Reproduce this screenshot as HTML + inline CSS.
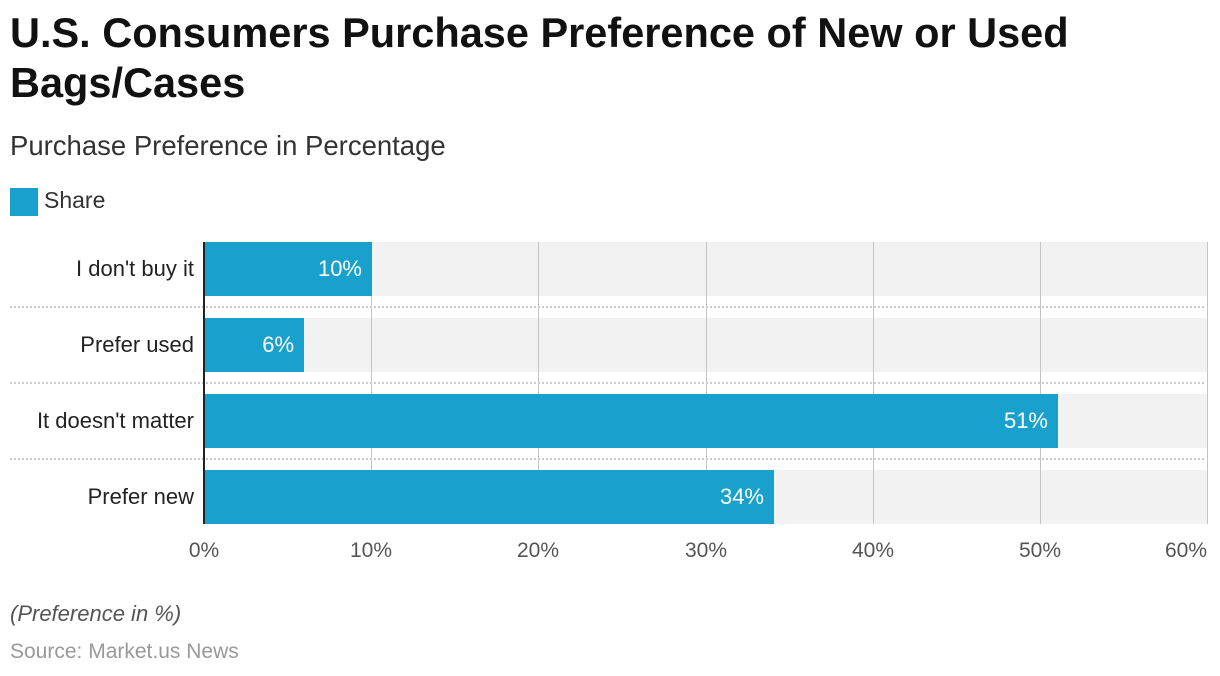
<!DOCTYPE html>
<html><head><style>
body{margin:0;width:1220px;height:676px;background:#fff;font-family:"Liberation Sans",sans-serif;position:relative;overflow:hidden}
.a{position:absolute}
h1{position:absolute;left:10px;top:8px;margin:0;font-size:41.5px;line-height:50px;font-weight:bold;color:#111}
.band{position:absolute;left:205px;width:1002px;height:54px;background:#f2f2f2}
.bar{position:absolute;left:205px;height:54px;background:#19a1cd;color:#fff;font-size:22px;line-height:54px;text-align:right;box-sizing:border-box;padding-right:10px}
.cat{position:absolute;right:1026px;font-size:22px;line-height:54px;color:#222;white-space:nowrap}
.grid{position:absolute;top:242px;width:1px;height:282px;background:#c4c4c4}
.sep{position:absolute;left:10px;width:1194px;border-top:2px dotted #ccc}
.tick{position:absolute;top:539px;font-size:21px;color:#555;width:80px;text-align:center}
</style></head><body>
<h1>U.S. Consumers Purchase Preference of New or Used<br>Bags/Cases</h1>
<div class="a" style="left:10px;top:130px;font-size:27.5px;color:#333">Purchase Preference in Percentage</div>
<div class="a" style="left:10px;top:188px;width:28px;height:28px;background:#19a1cd"></div>
<div class="a" style="left:44px;top:187px;font-size:23px;color:#333">Share</div>

<div class="band" style="top:242px"></div>
<div class="band" style="top:318px"></div>
<div class="band" style="top:394px"></div>
<div class="band" style="top:470px"></div>
<div class="grid" style="left:371px"></div>
<div class="grid" style="left:538px"></div>
<div class="grid" style="left:706px"></div>
<div class="grid" style="left:873px"></div>
<div class="grid" style="left:1040px"></div>
<div class="grid" style="left:1207px"></div>
<div class="sep" style="top:306px"></div>
<div class="sep" style="top:382px"></div>
<div class="sep" style="top:458px"></div>

<div class="bar" style="top:242px;width:167px">10%</div>
<div class="bar" style="top:318px;width:99px">6%</div>
<div class="bar" style="top:394px;width:853px">51%</div>
<div class="bar" style="top:470px;width:569px">34%</div>
<div class="a" style="left:203px;top:242px;width:2px;height:282px;background:#222"></div>

<div class="cat" style="top:242px">I don't buy it</div>
<div class="cat" style="top:318px">Prefer used</div>
<div class="cat" style="top:394px">It doesn't matter</div>
<div class="cat" style="top:470px">Prefer new</div>

<div class="tick" style="left:164px">0%</div>
<div class="tick" style="left:331px">10%</div>
<div class="tick" style="left:498px">20%</div>
<div class="tick" style="left:666px">30%</div>
<div class="tick" style="left:833px">40%</div>
<div class="tick" style="left:1000px">50%</div>
<div class="tick" style="left:1127px;text-align:right">60%</div>

<div class="a" style="left:10px;top:601px;font-size:22px;font-style:italic;color:#555">(Preference in %)</div>
<div class="a" style="left:10px;top:640px;font-size:21px;color:#999">Source: Market.us News</div>
</body></html>
